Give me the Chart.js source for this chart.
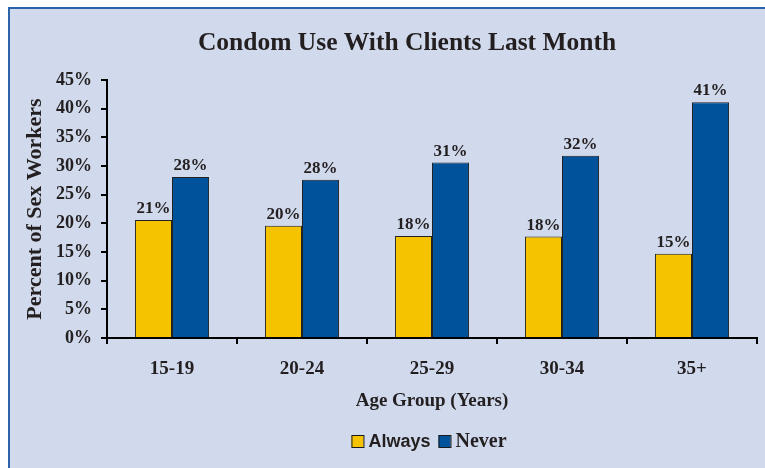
<!DOCTYPE html>
<html>
<head>
<meta charset="utf-8">
<script src="https://cdn.jsdelivr.net/npm/chart.js@4/dist/chart.umd.min.js"></script>
<style>
  html, body { margin: 0; padding: 0; background: #fff; overflow: hidden; }
  #panel {
    position: absolute; left: 8px; top: 7px; width: 780px; height: 480px;
    background: #d1daec; border-left: 2px solid #2d63ab; border-top: 2px solid #2d63ab;
  }
  #wrap { position: absolute; left: 0; top: 0; width: 765px; height: 468px; }
</style>
</head>
<body>
<div id="panel"></div>
<div id="wrap"><canvas id="chart" width="765" height="468"></canvas></div>
<script>
// ── Data ──
const ageGroups   = ['15-19', '20-24', '25-29', '30-34', '35+'];
const alwaysPct   = [20.6, 19.6, 17.8, 17.7, 14.7];
const neverPct    = [28.1, 27.6, 30.6, 31.8, 41.1];
const yTicks      = [0, 5, 10, 15, 20, 25, 30, 35, 40, 45];

const SERIF = "'Liberation Serif', 'Times New Roman', serif";
const SANS  = "'Liberation Sans', Arial, sans-serif";
const INK   = '#231f20';
const YELLOW = '#f5c300';
const BLUE   = '#00529b';

// ── Title drawn on canvas (centred a bit left of the plot) ──
const titlePlugin = {
  id: 'panelTitle',
  afterDraw(chart) {
    const ctx = chart.ctx;
    ctx.save();
    ctx.font = `bold 25.5px ${SERIF}`;
    ctx.fillStyle = INK;
    ctx.textAlign = 'center';
    ctx.textBaseline = 'middle';
    ctx.fillText('Condom Use With Clients Last Month', 407, 43);
    ctx.restore();
  }
};

// ── Value labels above every bar ──
const valueLabels = {
  id: 'valueLabels',
  afterDatasetsDraw(chart) {
    const ctx = chart.ctx;
    ctx.save();
    ctx.font = `bold 17px ${SERIF}`;
    ctx.fillStyle = INK;
    ctx.textAlign = 'center';
    ctx.textBaseline = 'alphabetic';
    chart.data.datasets.forEach((ds, i) => {
      chart.getDatasetMeta(i).data.forEach((bar, j) => {
        ctx.fillText(Math.round(ds.data[j]) + '%', bar.x, bar.y - 7);
      });
    });
    ctx.restore();
  }
};

// ── Legend (mixed fonts, like the original) ──
const legendPlugin = {
  id: 'mixedLegend',
  afterDraw(chart) {
    const ctx = chart.ctx;
    const items = [
      { text: 'Always', color: YELLOW, font: `bold 18px ${SANS}` },
      { text: 'Never',  color: BLUE,   font: `bold 20px ${SERIF}` }
    ];
    const box = 12, gap = 5, between = 8;
    let total = 0;
    items.forEach((it, k) => {
      ctx.font = it.font;
      it.w = ctx.measureText(it.text).width;
      total += box + gap + it.w + (k ? between : 0);
    });
    const area = chart.chartArea;
    let x = (area.left + area.right) / 2 - total / 2 - 3;
    const cy = 441;
    ctx.save();
    items.forEach((it, k) => {
      if (k) x += between;
      ctx.fillStyle = it.color;
      ctx.fillRect(x, cy - box / 2, box, box);
      ctx.strokeStyle = '#1a1a1a';
      ctx.lineWidth = 1;
      ctx.strokeRect(x + 0.5, cy - box / 2 + 0.5, box, box);
      x += box + gap;
      ctx.font = it.font;
      ctx.fillStyle = INK;
      ctx.textAlign = 'left';
      ctx.textBaseline = 'middle';
      ctx.fillText(it.text, x, cy + 1);
      x += it.w;
    });
    ctx.restore();
  }
};

Chart.defaults.font.family = SERIF;
Chart.defaults.color = INK;

new Chart(document.getElementById('chart'), {
  type: 'bar',
  data: {
    labels: ageGroups,
    datasets: [
      { label: 'Always', data: alwaysPct, backgroundColor: YELLOW, borderColor: '#222', borderWidth: 1 },
      { label: 'Never',  data: neverPct,  backgroundColor: BLUE,   borderColor: '#222', borderWidth: 1 }
    ]
  },
  options: {
    responsive: false,
    animation: false,
    layout: { padding: { top: 80, right: 8, bottom: 55, left: 0 } },
    datasets: { bar: { categoryPercentage: 0.57, barPercentage: 1.0 } },
    plugins: {
      legend: { display: false },
      title: { display: false },
      tooltip: { enabled: false }
    },
    scales: {
      x: {
        grid: { display: true, drawOnChartArea: false, drawTicks: true, tickLength: 6, color: '#000', lineWidth: 2 },
        border: { display: true, color: '#000', width: 2 },
        ticks: { font: { size: 19, weight: 'bold' }, padding: 14, color: INK },
        title: { display: true, text: 'Age Group (Years)', font: { size: 19, weight: 'bold' }, padding: { top: 2, bottom: 1 }, color: INK },
        afterFit: s => { s.height = 75; }
      },
      y: {
        min: 0,
        max: 45,
        afterBuildTicks: s => { s.ticks = yTicks.map(v => ({ value: v })); },
        grid: { display: true, drawOnChartArea: false, drawTicks: true, tickLength: 6, color: '#000', lineWidth: 2 },
        border: { display: true, color: '#000', width: 2 },
        ticks: { font: { size: 18, weight: 'bold' }, padding: 9, color: INK, callback: v => v + '%' },
        title: { display: true, text: 'Percent of Sex Workers', font: { size: 22, weight: 'bold' }, padding: { top: 22, bottom: 0 }, color: INK },
        afterFit: s => { s.width = 107; }
      }
    }
  },
  plugins: [titlePlugin, valueLabels, legendPlugin]
});
</script>
</body>
</html>
